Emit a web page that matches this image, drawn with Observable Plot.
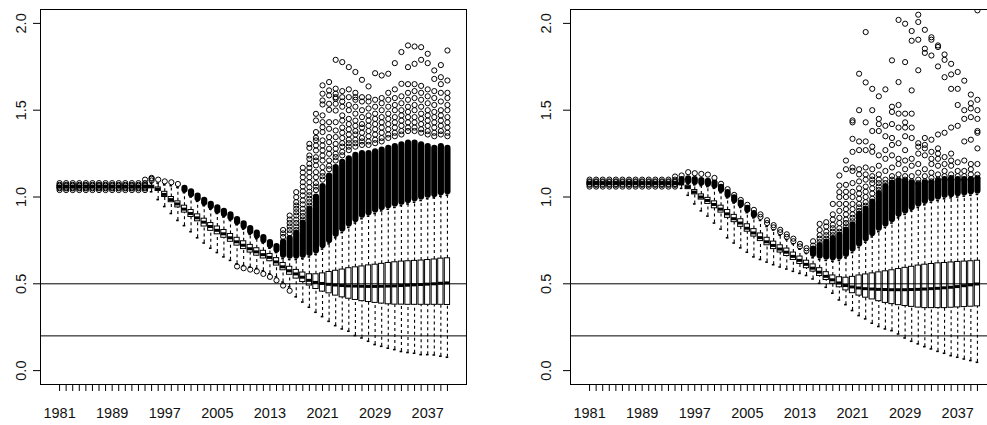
<!DOCTYPE html>
<html><head><meta charset="utf-8">
<script src="https://cdn.jsdelivr.net/npm/d3@7"></script>
<script src="https://cdn.jsdelivr.net/npm/@observablehq/plot@0.6"></script>
<style>
html,body{margin:0;padding:0;background:#fff;overflow:hidden}
#wrap{position:relative;width:987px;height:425px;overflow:hidden}
#left{position:absolute;left:0;top:0;width:490px;height:425px;overflow:hidden}
#right{position:absolute;left:490px;top:0;width:497px;height:425px;overflow:hidden}
svg{display:block;max-width:none !important}
</style></head><body>
<div id="wrap"><div id="left"></div><div id="right"></div></div>
<script>
const years = d3.range(1981, 2041);
const xTickLabels = ["1981","1989","1997","2005","2013","2021","2029","2037"];
const yTicks = [0, 0.5, 1, 1.5, 2];
const yTickLabels = ["0.0","0.5","1.0","1.5","2.0"];
const refLines = [0.5, 0.2];

// ---- left panel ----
const L_med = [1.06,1.06,1.06,1.06,1.06,1.06,1.06,1.06,1.06,1.06,1.06,1.06,1.06,1.06,
 1.06,1.045,1.015,0.985,0.96,0.93,0.905,0.88,0.855,0.83,
 0.808,0.788,0.765,0.742,0.722,0.702,0.684,0.668,0.652,0.626,
 0.598,0.575,0.557,0.538,0.52,0.508,0.502,0.497,0.493,0.49,
 0.488,0.487,0.486,0.485,0.485,0.486,0.487,0.488,0.49,0.492,
 0.494,0.496,0.498,0.5,0.503,0.505];
const L_q1 = [1.06,1.06,1.06,1.06,1.06,1.06,1.06,1.06,1.06,1.06,1.06,1.06,1.06,1.06,
 1.05,1.035,1.00,0.97,0.94,0.91,0.885,0.86,0.83,0.805,
 0.785,0.765,0.742,0.72,0.70,0.68,0.662,0.646,0.63,0.605,
 0.578,0.552,0.53,0.51,0.49,0.47,0.455,0.445,0.432,0.422,
 0.414,0.407,0.40,0.395,0.39,0.386,0.382,0.38,0.38,0.379,
 0.379,0.379,0.379,0.379,0.379,0.378];
const L_q3 = [1.06,1.06,1.06,1.06,1.06,1.06,1.06,1.06,1.06,1.06,1.06,1.06,1.06,1.06,
 1.065,1.055,1.03,1.00,0.975,0.95,0.925,0.90,0.875,0.85,
 0.83,0.81,0.787,0.765,0.745,0.724,0.705,0.69,0.672,0.648,
 0.62,0.598,0.58,0.565,0.555,0.555,0.56,0.568,0.575,0.582,
 0.59,0.595,0.60,0.606,0.61,0.615,0.62,0.624,0.628,0.63,
 0.632,0.634,0.637,0.64,0.645,0.647];
const L_lo = [1.06,1.06,1.06,1.06,1.06,1.06,1.06,1.06,1.06,1.06,1.06,1.06,1.06,1.06,
 1.03,0.985,0.945,0.905,0.865,0.835,0.80,0.765,0.735,0.705,
 0.68,0.655,0.635,0.615,0.605,0.597,0.588,0.575,0.558,0.54,
 0.51,0.482,0.425,0.395,0.365,0.336,0.311,0.284,0.259,0.24,
 0.227,0.202,0.188,0.169,0.15,0.14,0.129,0.121,0.11,0.104,
 0.10,0.092,0.092,0.09,0.083,0.077];
const L_hi = [1.06,1.06,1.06,1.06,1.06,1.06,1.06,1.06,1.06,1.06,1.06,1.06,1.06,1.06,
 1.08,1.08,1.07,1.065,1.055,1.025,1.0,0.975,0.95,0.93,
 0.905,0.885,0.865,0.84,0.815,0.785,0.76,0.735,0.705,0.68,
 0.645,0.64,0.64,0.645,0.655,0.67,0.70,0.73,0.765,0.795,
 0.825,0.85,0.875,0.89,0.905,0.92,0.93,0.94,0.95,0.96,
 0.97,0.98,0.99,0.995,1.005,1.01];
// solid runs of overlapping outlier circles (low / high end)
const L_bandLo = [null,null,null,null,null,null,null,null,null,null,null,null,null,null,null,null,null,null,null,
 1.04,1.015,0.99,0.965,0.945,0.92,0.90,0.88,0.855,0.83,
 0.80,0.775,0.75,0.72,0.695,0.665,0.66,0.66,0.665,0.675,
 0.69,0.72,0.75,0.785,0.815,0.845,0.87,0.895,0.91,0.925,
 0.94,0.95,0.96,0.97,0.98,0.99,1.0,1.01,1.015,1.025,1.03];
const L_bandHi = [null,null,null,null,null,null,null,null,null,null,null,null,null,null,null,null,null,null,null,
 1.05,1.03,1.005,0.98,0.958,0.938,0.917,0.897,0.87,0.845,
 0.818,0.792,0.766,0.738,0.715,0.74,0.76,0.79,0.85,0.93,
 1.0,1.06,1.12,1.17,1.2,1.22,1.24,1.25,1.25,1.26,
 1.27,1.28,1.29,1.30,1.31,1.31,1.30,1.29,1.28,1.29,1.28];
const L_out = [
 [1.04,1.05,1.055,1.065,1.07,1.08],[1.04,1.05,1.055,1.065,1.07,1.08],[1.04,1.05,1.055,1.065,1.07,1.08],[1.04,1.05,1.055,1.065,1.07,1.08],
 [1.04,1.05,1.055,1.065,1.07,1.08],[1.04,1.05,1.055,1.065,1.07,1.08],[1.04,1.05,1.055,1.065,1.07,1.08],[1.04,1.05,1.055,1.065,1.07,1.08],
 [1.04,1.05,1.055,1.065,1.07,1.08],[1.04,1.05,1.055,1.065,1.07,1.08],[1.04,1.05,1.055,1.065,1.07,1.08],[1.04,1.05,1.055,1.065,1.07,1.08],
 [1.04,1.05,1.055,1.065,1.07,1.08],[1.04,1.05,1.055,1.065,1.07,1.08,1.10],
 [1.095,1.105,1.11],[1.10],[1.09],[1.085],[1.075],
 [],[],[],[],[],[],[],[],
 [0.60],[0.59],[0.582],[0.572],[0.557],[0.54],[0.52],
 [0.49,0.77,0.79,0.81],
 [0.46,0.79,0.81,0.83,0.85,0.87,0.893],
 [0.81,0.83,0.85,0.87,0.893,0.912,0.932,0.951,0.97,0.999,1.028],
 [0.87,0.89,0.91,0.932,0.957,0.98,1.009,1.033,1.06,1.085,1.114,1.141,1.168],
 [0.95,0.97,0.99,1.01,1.03,1.056,1.085,1.114,1.143,1.168,1.191,1.22,1.239,1.283,1.306],
 [1.04,1.06,1.08,1.114,1.143,1.182,1.21,1.229,1.268,1.297,1.326,1.341,1.374,1.441,1.479],
 [1.10,1.12,1.14,1.172,1.21,1.239,1.268,1.297,1.326,1.374,1.402,1.431,1.47,1.533,1.556,1.595,1.643],
 [1.16,1.18,1.21,1.249,1.278,1.316,1.345,1.393,1.431,1.502,1.537,1.585,1.614,1.662],
 [1.21,1.23,1.249,1.278,1.306,1.345,1.383,1.431,1.498,1.537,1.566,1.575,1.595,1.624,1.79],
 [1.24,1.26,1.29,1.31,1.34,1.37,1.40,1.44,1.47,1.52,1.55,1.575,1.61,1.777],
 [1.27,1.29,1.31,1.33,1.36,1.39,1.42,1.45,1.50,1.53,1.575,1.62,1.748],
 [1.29,1.31,1.33,1.36,1.38,1.41,1.44,1.48,1.52,1.56,1.575,1.60,1.72],
 [1.30,1.32,1.34,1.37,1.40,1.42,1.46,1.50,1.55,1.575,1.675],
 [1.30,1.32,1.35,1.38,1.41,1.44,1.47,1.51,1.55,1.575,1.637],
 [1.31,1.33,1.36,1.39,1.42,1.45,1.48,1.52,1.56,1.713],
 [1.32,1.34,1.37,1.40,1.43,1.46,1.50,1.54,1.57,1.70],
 [1.34,1.36,1.39,1.42,1.45,1.48,1.52,1.56,1.60,1.71],
 [1.35,1.37,1.40,1.43,1.46,1.50,1.53,1.57,1.62,1.771],
 [1.36,1.38,1.41,1.44,1.47,1.50,1.54,1.58,1.652,1.835],
 [1.38,1.40,1.43,1.46,1.49,1.52,1.56,1.60,1.65,1.748,1.873],
 [1.38,1.40,1.43,1.46,1.50,1.53,1.57,1.61,1.65,1.767,1.867],
 [1.37,1.39,1.42,1.45,1.48,1.52,1.56,1.60,1.64,1.79,1.863],
 [1.36,1.38,1.41,1.44,1.47,1.50,1.54,1.58,1.62,1.771,1.825],
 [1.35,1.37,1.40,1.43,1.46,1.49,1.53,1.57,1.61,1.68,1.729],
 [1.36,1.38,1.41,1.44,1.47,1.50,1.55,1.60,1.65,1.69,1.76],
 [1.35,1.37,1.40,1.43,1.46,1.50,1.53,1.57,1.60,1.671,1.844]
];

// ---- right panel ----
const R_med = [1.08,1.08,1.08,1.08,1.08,1.08,1.08,1.08,1.08,1.08,1.08,1.08,1.08,1.08,
 1.075,1.057,1.028,1.0,0.98,0.957,0.93,0.903,0.875,0.85,
 0.82,0.793,0.766,0.742,0.721,0.70,0.682,0.658,0.635,0.612,
 0.59,0.567,0.543,0.523,0.505,0.49,0.482,0.476,0.472,0.47,
 0.468,0.467,0.466,0.466,0.466,0.467,0.468,0.47,0.472,0.474,
 0.477,0.48,0.484,0.489,0.494,0.499];
const R_q1 = [1.08,1.08,1.08,1.08,1.08,1.08,1.08,1.08,1.08,1.08,1.08,1.08,1.08,1.08,
 1.07,1.045,1.015,0.985,0.96,0.935,0.91,0.88,0.855,0.828,
 0.80,0.772,0.746,0.722,0.70,0.68,0.66,0.637,0.614,0.59,
 0.57,0.545,0.522,0.50,0.48,0.462,0.446,0.432,0.42,0.41,
 0.40,0.39,0.383,0.377,0.372,0.367,0.363,0.36,0.36,0.36,
 0.36,0.362,0.364,0.366,0.368,0.37];
const R_q3 = [1.08,1.08,1.08,1.08,1.08,1.08,1.08,1.08,1.08,1.08,1.08,1.08,1.08,1.08,
 1.08,1.065,1.04,1.015,0.995,0.975,0.95,0.925,0.897,0.872,
 0.843,0.815,0.79,0.765,0.743,0.722,0.703,0.68,0.657,0.633,
 0.612,0.59,0.567,0.548,0.538,0.535,0.54,0.548,0.554,0.56,
 0.566,0.572,0.578,0.585,0.592,0.598,0.605,0.61,0.614,0.618,
 0.62,0.623,0.626,0.628,0.63,0.633];
const R_lo = [1.08,1.08,1.08,1.08,1.08,1.08,1.08,1.08,1.08,1.08,1.08,1.08,1.08,1.08,
 1.05,1.01,0.96,0.92,0.89,0.85,0.815,0.765,0.735,0.707,
 0.682,0.655,0.64,0.625,0.61,0.597,0.585,0.572,0.56,0.548,
 0.528,0.503,0.48,0.446,0.407,0.38,0.346,0.317,0.298,0.273,
 0.254,0.24,0.23,0.211,0.188,0.169,0.154,0.138,0.125,0.111,
 0.10,0.086,0.077,0.067,0.058,0.048];
const R_hi = [1.08,1.08,1.08,1.08,1.08,1.08,1.08,1.08,1.08,1.08,1.08,1.08,1.08,1.08,
 1.08,1.075,1.07,1.065,1.06,1.05,1.025,0.995,0.965,0.94,
 0.91,0.88,0.865,0.83,0.81,0.78,0.755,0.73,0.70,0.675,
 0.65,0.64,0.635,0.63,0.635,0.65,0.68,0.71,0.74,0.77,
 0.80,0.825,0.85,0.88,0.90,0.92,0.94,0.955,0.97,0.98,
 0.99,0.995,1.0,1.005,1.01,1.015];
const R_bandLo = [null,null,null,null,null,null,null,null,null,null,null,null,null,null,
 1.09,1.09,1.085,1.08,1.075,1.065,1.04,1.01,0.98,0.955,0.925,0.895,
 null,null,null,null,null,null,null,null,
 0.67,0.66,0.655,0.65,0.655,0.67,0.70,0.73,0.76,0.79,
 0.82,0.845,0.87,0.90,0.92,0.94,0.96,0.975,0.99,1.0,
 1.01,1.015,1.02,1.025,1.03,1.035];
const R_bandHi = [null,null,null,null,null,null,null,null,null,null,null,null,null,null,
 1.10,1.105,1.10,1.095,1.09,1.08,1.055,1.025,0.995,0.965,0.935,0.905,
 null,null,null,null,null,null,null,null,
 0.70,0.72,0.74,0.76,0.78,0.81,0.84,0.90,0.93,0.97,
 1.02,1.06,1.08,1.09,1.09,1.08,1.07,1.08,1.08,1.09,
 1.10,1.10,1.10,1.10,1.10,1.10];
const R_out = [
 [1.06,1.07,1.075,1.085,1.09,1.10],[1.06,1.07,1.075,1.085,1.09,1.10],[1.06,1.07,1.075,1.085,1.09,1.10],[1.06,1.07,1.075,1.085,1.09,1.10],
 [1.06,1.07,1.075,1.085,1.09,1.10],[1.06,1.07,1.075,1.085,1.09,1.10],[1.06,1.07,1.075,1.085,1.09,1.10],[1.06,1.07,1.075,1.085,1.09,1.10],
 [1.06,1.07,1.075,1.085,1.09,1.10],[1.06,1.07,1.075,1.085,1.09,1.10],[1.06,1.07,1.075,1.085,1.09,1.10],[1.06,1.07,1.075,1.085,1.09,1.10],
 [1.06,1.07,1.075,1.085,1.09,1.10],[1.06,1.07,1.075,1.085,1.09,1.10,1.118],
 [1.124],[1.143],[1.137],[1.133],[1.129],[1.11],[1.076],[1.045],[1.012],[0.983],[0.955],[0.926],
 [0.885,0.90],[0.85,0.866],[0.825,0.838],[0.797,0.811],[0.77,0.785],[0.745,0.76],[0.715,0.73],[0.69,0.705],
 [0.72,0.745],
 [0.74,0.76,0.78,0.81,0.845],
 [0.76,0.78,0.80,0.83,0.855],
 [0.78,0.80,0.82,0.84,0.87,0.90,0.96],
 [0.80,0.82,0.85,0.88,0.92,0.96,1.0,1.028,1.066,1.124],
 [0.83,0.85,0.87,0.90,0.93,0.96,1.0,1.03,1.07,1.16,1.21],
 [0.86,0.88,0.90,0.93,0.96,1.0,1.03,1.08,1.15,1.17,1.26,1.335,1.43,1.441],
 [0.92,0.94,0.96,0.99,1.02,1.05,1.09,1.13,1.16,1.27,1.32,1.50,1.71],
 [0.95,0.97,1.0,1.03,1.06,1.10,1.13,1.17,1.27,1.32,1.43,1.66,1.95],
 [0.99,1.02,1.05,1.08,1.10,1.12,1.16,1.26,1.29,1.38,1.50,1.623],
 [1.04,1.06,1.08,1.10,1.13,1.18,1.24,1.38,1.42,1.45,1.58],
 [1.08,1.10,1.15,1.22,1.27,1.35,1.41,1.62],
 [1.10,1.12,1.17,1.24,1.30,1.34,1.42,1.49,1.52,1.787],
 [1.10,1.13,1.19,1.22,1.31,1.40,1.48,1.53,1.662,2.02],
 [1.10,1.12,1.16,1.21,1.27,1.35,1.40,1.43,1.48,1.777,1.998],
 [1.09,1.12,1.18,1.22,1.34,1.40,1.48,1.614,1.90,1.956],
 [1.08,1.10,1.14,1.19,1.25,1.29,1.31,1.73,1.906,2.008,2.05],
 [1.09,1.12,1.16,1.24,1.28,1.30,1.34,1.83,1.854,1.963],
 [1.09,1.11,1.14,1.19,1.22,1.26,1.33,1.815,1.906,1.92],
 [1.10,1.13,1.18,1.22,1.25,1.28,1.36,1.752,1.864,1.873],
 [1.10,1.12,1.15,1.19,1.23,1.37,1.69,1.79,1.821],
 [1.11,1.13,1.18,1.21,1.25,1.40,1.623,1.706,1.767],
 [1.10,1.12,1.15,1.20,1.41,1.53,1.623,1.72],
 [1.10,1.12,1.15,1.21,1.32,1.45,1.50,1.67],
 [1.10,1.13,1.16,1.19,1.33,1.46,1.51,1.54,1.59],
 [1.11,1.13,1.19,1.28,1.37,1.38,1.45,1.50,1.56,2.075]
];

const FONT = "'Liberation Sans', Arial, Helvetica, sans-serif";

function panel(med, q1, q3, lo, hi, bLo, bHi, outs, width, marginLeft, labelDx) {
  const rows = years.map((year, i) => ({year, med: med[i], q1: q1[i], q3: q3[i], lo: lo[i], hi: hi[i]}));
  const bands = years.map((year, i) => ({year, lo: bLo[i], hi: bHi[i]})).filter(d => d.lo != null);
  const pts = years.flatMap((year, i) => outs[i].map(v => ({year, v})));
  const bw = 0.4, sw = 0.2;
  return Plot.plot({
    width, height: 425,
    marginLeft, marginRight: width - marginLeft - 426, marginTop: 9, marginBottom: 41,
    x: {domain: [1978.1, 2042.9]},
    y: {domain: [-0.08, 2.08]},
    style: {fontFamily: FONT, fontSize: "14px", background: "white", color: "black", maxWidth: "none"},
    marks: [
      Plot.ruleX(rows, {x: "year", y1: "q3", y2: "hi", stroke: "black", strokeWidth: 1.1, strokeDasharray: "3,3"}),
      Plot.ruleX(rows, {x: "year", y1: "lo", y2: "q1", stroke: "black", strokeWidth: 1.1, strokeDasharray: "3,3"}),
      Plot.ruleY(rows, {y: "hi", x1: d => d.year - sw, x2: d => d.year + sw, stroke: "black", strokeWidth: 1.6}),
      Plot.ruleY(rows, {y: "lo", x1: d => d.year - sw, x2: d => d.year + sw, stroke: "black", strokeWidth: 1.6}),
      Plot.rect(rows, {x1: d => d.year - bw, x2: d => d.year + bw, y1: "q1", y2: "q3", fill: "white", stroke: "black", strokeWidth: 1}),
      Plot.ruleY(rows, {y: "med", x1: d => d.year - bw, x2: d => d.year + bw, stroke: "black", strokeWidth: 3}),
      Plot.ruleX(bands, {x: "year", y1: "lo", y2: "hi", stroke: "black", strokeWidth: 6.2, strokeLinecap: "round"}),
      Plot.dot(pts, {x: "year", y: "v", r: 2.6, stroke: "black", strokeWidth: 1, fill: "none", clip: true}),
      Plot.ruleY(refLines, {stroke: "black", strokeWidth: 1}),
      Plot.frame({stroke: "black", strokeWidth: 1}),
      Plot.axisX({ticks: years, tickSize: 7, tickFormat: () => "", label: null, stroke: "black"}),
      Plot.axisY({ticks: yTicks, tickSize: 7, tickFormat: () => "", label: null, stroke: "black"}),
      Plot.text(xTickLabels, {x: d => +d, text: d => d, frameAnchor: "bottom", dy: 29, lineAnchor: "middle", fill: "#111", fontSize: 14.5}),
      Plot.text(yTicks, {y: d => d, text: (d, i) => yTickLabels[i], frameAnchor: "left", dx: labelDx, rotate: -90, textAnchor: "middle", lineAnchor: "middle", fill: "#111", fontSize: 14.5})
    ]
  });
}

document.getElementById("left").append(panel(L_med, L_q1, L_q3, L_lo, L_hi, L_bandLo, L_bandHi, L_out, 490, 40, -19));
document.getElementById("right").append(panel(R_med, R_q1, R_q3, R_lo, R_hi, R_bandLo, R_bandHi, R_out, 506, 80, -24));
</script>
</body></html>
